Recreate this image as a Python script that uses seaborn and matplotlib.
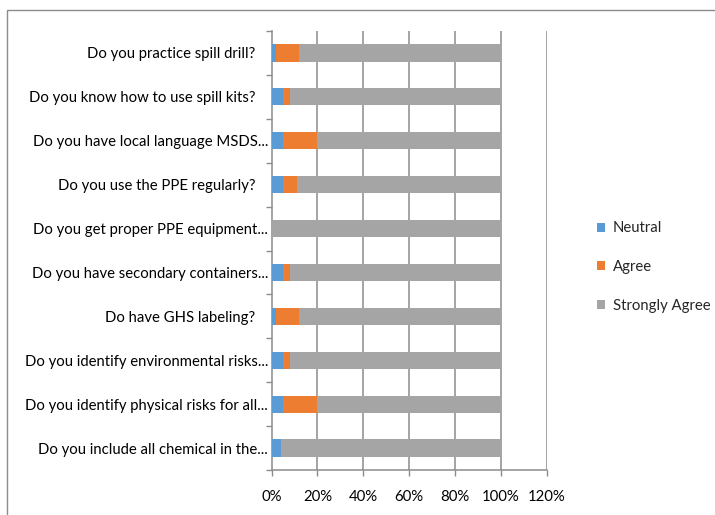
import matplotlib
matplotlib.use("Agg")
import matplotlib.pyplot as plt
from matplotlib.patches import Rectangle, Patch
from matplotlib.transforms import ScaledTranslation
import seaborn as sns
import pandas as pd

# Survey questions, listed top to bottom
questions = [
    "Do you practice spill drill?",
    "Do you know how to use spill kits?",
    "Do you have local language MSDS...",
    "Do you use the PPE regularly?",
    "Do you get proper PPE equipment...",
    "Do you have secondary containers...",
    "Do have GHS labeling?",
    "Do you identify environmental risks...",
    "Do you identify physical risks for all...",
    "Do you include all chemical in the...",
]

# Share of responses (%)
neutral = [2, 5, 5, 5, 0, 5, 2, 5, 5, 4]
agree = [10, 3, 15, 6, 0, 3, 10, 3, 15, 0]
strongly_agree = [88, 92, 80, 89, 100, 92, 88, 92, 80, 96]

x_ticks = [0, 20, 40, 60, 80, 100, 120]
series_names = ["Neutral", "Agree", "Strongly Agree"]

C_NEUTRAL = "#5B9BD5"
C_AGREE = "#ED7D31"
C_STRONG = "#A5A5A5"
GRID = "#8C8C8C"
FS = 10.75

sns.set_theme(style="white")
plt.rcParams["font.family"] = ["Lato", "DejaVu Sans"]

df = pd.DataFrame({
    "question": questions,
    "Neutral": neutral,
    "Agree": agree,
    "Strongly Agree": strongly_agree,
})
# cumulative ends for stacking
df["end_neutral"] = df["Neutral"]
df["end_agree"] = df["Neutral"] + df["Agree"]
df["end_strong"] = df["end_agree"] + df["Strongly Agree"]

W, H = 715, 515
fig = plt.figure(figsize=(W / 100, H / 100), dpi=100)
ax = fig.add_axes([271.5 / W, 1 - 470 / H, (546.7 - 271.5) / W, (470 - 31) / H])

bar_kw = dict(y="question", orient="h", width=0.39, errorbar=None,
              saturation=1, linewidth=0, ax=ax, order=questions)
sns.barplot(data=df, x="end_strong", color=C_STRONG, zorder=3, **bar_kw)
sns.barplot(data=df, x="end_agree", color=C_AGREE, zorder=4, **bar_kw)
sns.barplot(data=df, x="end_neutral", color=C_NEUTRAL, zorder=5, **bar_kw)

ax.set_xlim(0, 120)
ax.set_ylim(len(questions) - 0.5, -0.5)
ax.set_xticks(x_ticks)
ax.set_xticklabels([f"{t}%" for t in x_ticks])
ax.set_xlabel("")
ax.set_ylabel("")

# vertical gridlines at every 20 %
for t in x_ticks[1:]:
    ax.axvline(t, color=GRID, linewidth=1.1, zorder=1)
for side in ("top", "right"):
    ax.spines[side].set_visible(False)
for side in ("left", "bottom"):
    ax.spines[side].set_color(GRID)
    ax.spines[side].set_linewidth(1.1)

# category labels without marks; boundary tick marks on the minor ticks
ax.set_yticks([i - 0.5 for i in range(len(questions) + 1)], minor=True)
ax.tick_params(axis="y", which="major", length=0, pad=11.5, labelsize=FS, labelcolor="black")
ax.tick_params(axis="y", which="minor", left=True, length=4, color=GRID, width=1)
ax.tick_params(axis="x", which="major", bottom=True, length=4, color=GRID, width=1,
               pad=10.5, labelsize=FS, labelcolor="black")

# shortened labels sit a little closer to the axis
nudge = ScaledTranslation(9 / 72, 0, fig.dpi_scale_trans)
for lbl in ax.get_yticklabels():
    if lbl.get_text().endswith("..."):
        lbl.set_transform(lbl.get_transform() + nudge)

handles = [Patch(facecolor=c, edgecolor="none") for c in (C_NEUTRAL, C_AGREE, C_STRONG)]
fig.legend(handles, series_names, loc="center left",
           bbox_to_anchor=(591 / W, 1 - 267 / H), frameon=False,
           fontsize=FS, handlelength=0.55, handleheight=0.55,
           handletextpad=0.5, labelspacing=1.65, borderaxespad=0)

# thin frame around the chart area
fig.patches.append(Rectangle((7 / W, -0.1), 1.0, 1 - 10 / H + 0.1,
                             transform=fig.transFigure, fill=False,
                             edgecolor="#8C8C8C", linewidth=1))

fig.savefig("out.png", dpi=100)
